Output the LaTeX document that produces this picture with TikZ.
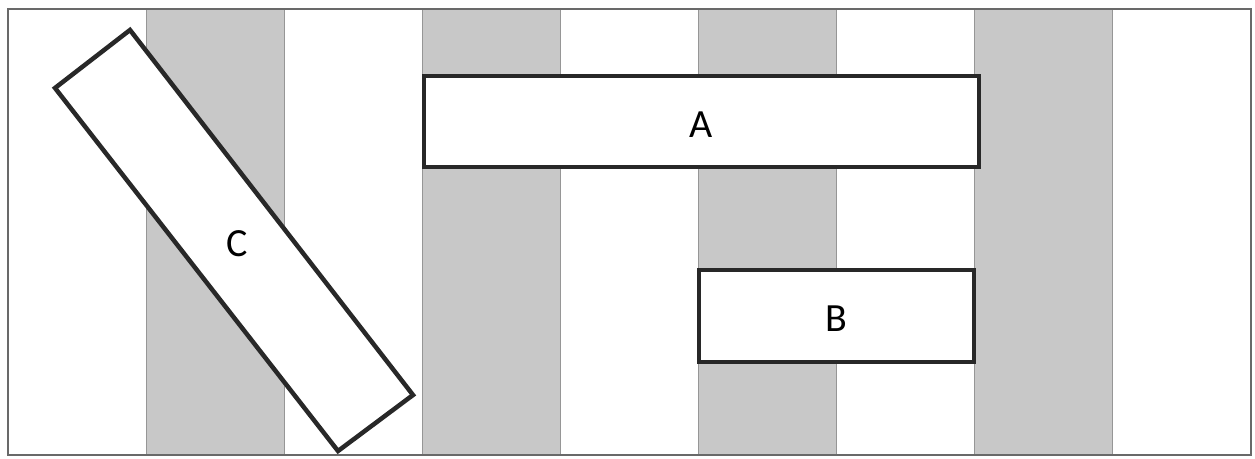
\documentclass[tikz,border=0pt]{standalone}
\usepackage{fontspec}
\setmainfont{Carlito}
\definecolor{stripe}{RGB}{200,200,200}
\definecolor{stripeedge}{RGB}{150,150,150}
\definecolor{boxline}{RGB}{40,40,40}
\begin{document}
\begin{tikzpicture}[x=1pt,y=-1pt,
  stripebox/.style={fill=stripe,draw=stripeedge,line width=0.8pt},
  labelbox/.style={draw=boxline,fill=white,line width=4.5pt,inner sep=0pt},
  lbl/.style={font=\fontsize{40}{44}\selectfont,inner sep=0pt}]
\useasboundingbox (0,0) rectangle (1255,458);
\fill[white] (0,0) rectangle (1255,458);
\foreach \x in {146,422,698,974}{
  \draw[stripebox] (\x,9) rectangle (\x+138,455);
}
\draw[draw=stripeedge!70!black,line width=1.5pt] (8,9) rectangle (1251,455);
\node[labelbox,minimum width=555pt,minimum height=91pt] (A) at (701.5,121.5) {};
\node[lbl] (Alabel) at (701,125) {A};
\node[labelbox,minimum width=275pt,minimum height=92pt] (B) at (836.5,316) {};
\node[lbl] (Blabel) at (836,319) {B};
\draw[draw=boxline,fill=white,line width=4.5pt,line join=miter] (130,30) -- (55,88) -- (338,451) -- (413,395) -- cycle;
\node[lbl] (C) at (237,244) {C};
\end{tikzpicture}
\end{document}
